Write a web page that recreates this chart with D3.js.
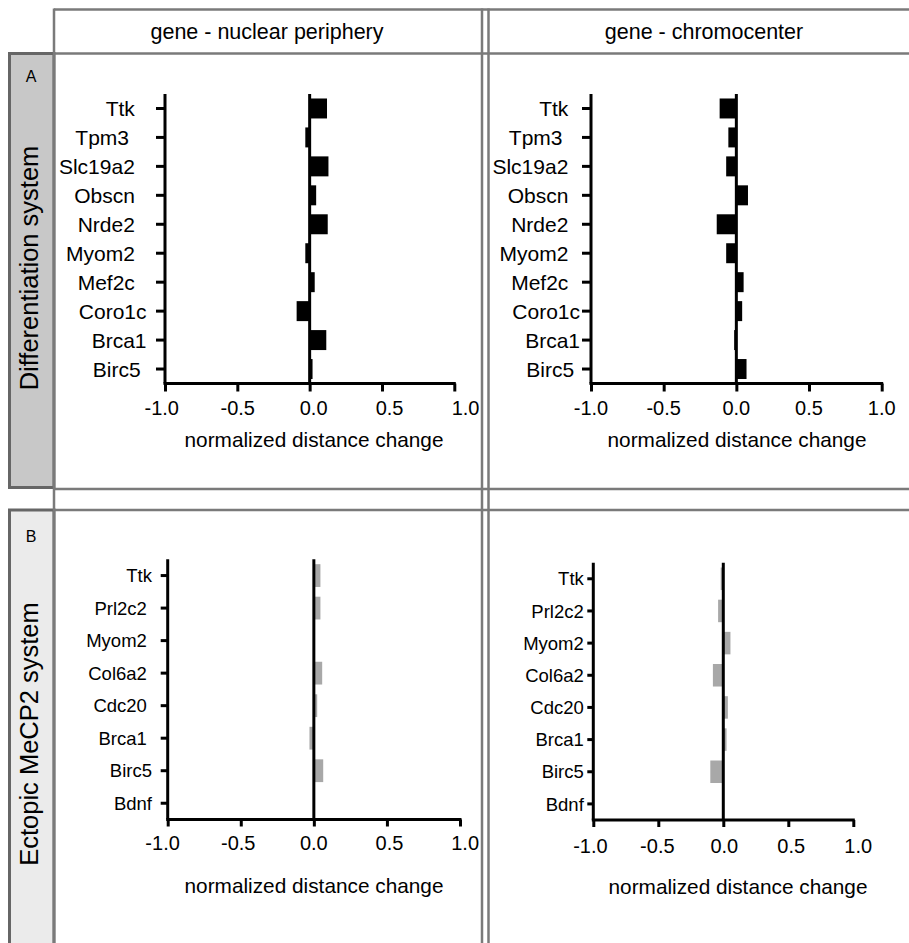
<!DOCTYPE html>
<html>
<head>
<meta charset="utf-8">
<script src="https://cdn.jsdelivr.net/npm/d3@7"></script>
<style>
  html, body { margin: 0; padding: 0; background: #fff; }
  svg { display: block; }
  text { font-family: "Liberation Sans", Arial, Helvetica, sans-serif; fill: #000; }
  .pre { white-space: pre; }
</style>
</head>
<body>
<svg id="chart" width="909" height="943"></svg>
<script>
// ---- data ----
const columnTitles = ["gene - nuclear periphery", "gene - chromocenter"];
const rowTitles = ["Differentiation system", "Ectopic MeCP2 system"];
const rowLetters = ["A", "B"];
const axisTitle = "normalized distance change";
const xTicks = [-1.0, -0.5, 0.0, 0.5, 1.0];

const diffGenes = ["Ttk", "Tpm3", "Slc19a2", "Obscn", "Nrde2", "Myom2", "Mef2c", "Coro1c", "Brca1", "Birc5"];
const diffTickLabels = ["Ttk  ", "Tpm3   ", "Slc19a2  ", "Obscn  ", "Nrde2  ", "Myom2  ", "Mef2c  ", "Coro1c", "Brca1", "Birc5 "];
const diffPeriphery = [0.12, -0.03, 0.13, 0.045, 0.125, -0.03, 0.035, -0.09, 0.115, 0.02];
const diffChromocenter = [-0.115, -0.055, -0.07, 0.08, -0.135, -0.07, 0.05, 0.04, -0.015, 0.07];

const ectopicGenes = ["Ttk", "Prl2c2", "Myom2", "Col6a2", "Cdc20", "Brca1", "Birc5", "Bdnf"];
const ectopicPeripheryTickLabels = ["Ttk", "Prl2c2 ", "Myom2 ", "Col6a2 ", "Cdc20 ", "Brca1 ", "Birc5", "Bdnf"];
const ectopicPeriphery = [0.045, 0.045, 0.0, 0.057, 0.023, -0.03, 0.064, 0.0];
const ectopicChromocenter = [-0.02, -0.04, 0.055, -0.08, 0.035, 0.025, -0.1, 0.0];

// ---- layout ----
const svg = d3.select("#chart");
const W = 909, H = 943;
const frameColor = "#7a7a7a";
const stripBorder = "#666";

// row strips
svg.append("rect").attr("x", 9.5).attr("y", 53.5).attr("width", 44.5).attr("height", 434)
  .attr("fill", "#c8c8c8").attr("stroke", stripBorder).attr("stroke-width", 3);
svg.append("rect").attr("x", 9.5).attr("y", 510).attr("width", 44.5).attr("height", 450)
  .attr("fill", "#ebebeb").attr("stroke", stripBorder).attr("stroke-width", 3);

// table grid lines
const hLines = [[54, 9.5], [54, 53.5], [54, 489], [54, 510]];
hLines.forEach(([x0, y]) => {
  svg.append("line").attr("x1", x0).attr("x2", W).attr("y1", y).attr("y2", y)
    .attr("stroke", frameColor).attr("stroke-width", 2.5);
});
[54, 482, 488.5].forEach(x => {
  svg.append("line").attr("x1", x).attr("x2", x).attr("y1", 8.5).attr("y2", H)
    .attr("stroke", frameColor).attr("stroke-width", 2.5);
});

// column headers
const headerX = [267, 704];
columnTitles.forEach((t, i) => {
  svg.append("text").attr("x", headerX[i]).attr("y", 39).attr("text-anchor", "middle")
    .attr("font-size", 21.5).text(t);
});

// row letters and rotated row titles
const letterY = [82, 542];
rowLetters.forEach((t, i) => {
  svg.append("text").attr("x", 31).attr("y", letterY[i]).attr("text-anchor", "middle")
    .attr("font-size", 16).text(t);
});
const rowTitleY = [268, 734];
rowTitles.forEach((t, i) => {
  svg.append("text").attr("transform", `translate(37.5,${rowTitleY[i]}) rotate(-90)`)
    .attr("text-anchor", "middle").attr("font-size", 25.5).text(t);
});

// ---- panels ----
const panels = [
  { genes: diffGenes, labels: diffTickLabels, values: diffPeriphery, fill: "#000",
    x0: 165, x1: 454.3, yTop: 94, yBot: 383.5, pad: 0.31, labelFont: 21, labelEnd: 146.5,
    yTick: 9, xTick: 8, tickLabelY: 415, stretch: 1.05, shift: 4, titleX: 314, titleY: 447 },
  { genes: diffGenes, labels: diffTickLabels, values: diffChromocenter, fill: "#000",
    x0: 591, x1: 881.7, yTop: 94, yBot: 383.5, pad: 0.31, labelFont: 21, labelEnd: 580,
    yTick: 9, xTick: 8, tickLabelY: 415, stretch: 1.0, shift: 0, titleX: 737, titleY: 447 },
  { genes: ectopicGenes, labels: ectopicPeripheryTickLabels, values: ectopicPeriphery, fill: "#a8a8a8",
    x0: 167.7, x1: 460, yTop: 559.3, yBot: 819.5, pad: 0.3, labelFont: 18.5, labelEnd: 152,
    yTick: 7, xTick: 7, tickLabelY: 850, stretch: 1.035, shift: 0, titleX: 314, titleY: 893 },
  { genes: ectopicGenes, labels: ectopicGenes, values: ectopicChromocenter, fill: "#a8a8a8",
    x0: 593.3, x1: 853.3, yTop: 562.7, yBot: 820, pad: 0.3, labelFont: 18.5, labelEnd: 583.8,
    yTick: 6, xTick: 7, tickLabelY: 853, stretch: 1.03, shift: 1, titleX: 738, titleY: 894 }
];

// tick labels use a plain hyphen for negatives
const fmt = v => d3.format(".1f")(v).replace("\u2212", "-");

panels.forEach(p => {
  const g = svg.append("g");
  const x = d3.scaleLinear().domain([-1, 1]).range([p.x0, p.x1]);
  const y = d3.scaleBand().domain(p.genes).range([p.yTop, p.yBot])
    .paddingInner(p.pad).paddingOuter(p.pad / 2);
  const rows = p.genes.map((gname, i) => ({ gene: gname, label: p.labels[i], value: p.values[i] }));

  // bars
  g.selectAll("rect.bar").data(rows).join("rect").attr("class", "bar")
    .attr("x", d => x(Math.min(0, d.value)))
    .attr("width", d => Math.abs(x(d.value) - x(0)))
    .attr("y", d => y(d.gene))
    .attr("height", y.bandwidth())
    .attr("fill", p.fill);

  // zero reference line
  g.append("line").attr("x1", x(0)).attr("x2", x(0)).attr("y1", p.yTop).attr("y2", p.yBot)
    .attr("stroke", "#000").attr("stroke-width", 3);

  // y axis
  const yAxis = g.append("g").attr("transform", `translate(${p.x0},0)`)
    .call(d3.axisLeft(y).tickSize(p.yTick).tickFormat(""));
  yAxis.select(".domain").attr("d", `M0,${p.yTop}V${p.yBot}`).attr("stroke", "#000").attr("stroke-width", 3);
  yAxis.selectAll(".tick line").attr("stroke", "#000").attr("stroke-width", 3);

  g.selectAll("text.cat").data(rows).join("text").attr("class", "cat pre")
    .attr("x", p.labelEnd).attr("y", d => y(d.gene) + y.bandwidth() / 2)
    .attr("dy", "0.36em").attr("text-anchor", "end").attr("font-size", p.labelFont)
    .attr("xml:space", "preserve")
    .text(d => d.label);

  // x axis
  const xAxis = g.append("g").attr("transform", `translate(0,${p.yBot})`)
    .call(d3.axisBottom(x).tickValues(xTicks).tickSize(p.xTick).tickFormat(""));
  xAxis.select(".domain").attr("d", `M${p.x0 - 1.5},0H${p.x1 + 1.5}`).attr("stroke", "#000").attr("stroke-width", 3);
  xAxis.selectAll(".tick line").attr("stroke", "#000").attr("stroke-width", 3);

  const mid = x(0);
  g.selectAll("text.xlab").data(xTicks).join("text").attr("class", "xlab")
    .attr("x", v => mid + p.shift + (x(v) - mid) * p.stretch)
    .attr("y", p.tickLabelY).attr("text-anchor", "middle").attr("font-size", 20)
    .text(v => fmt(v));

  g.append("text").attr("x", p.titleX).attr("y", p.titleY).attr("text-anchor", "middle")
    .attr("font-size", 20.8).text(axisTitle);
});
</script>
</body>
</html>
